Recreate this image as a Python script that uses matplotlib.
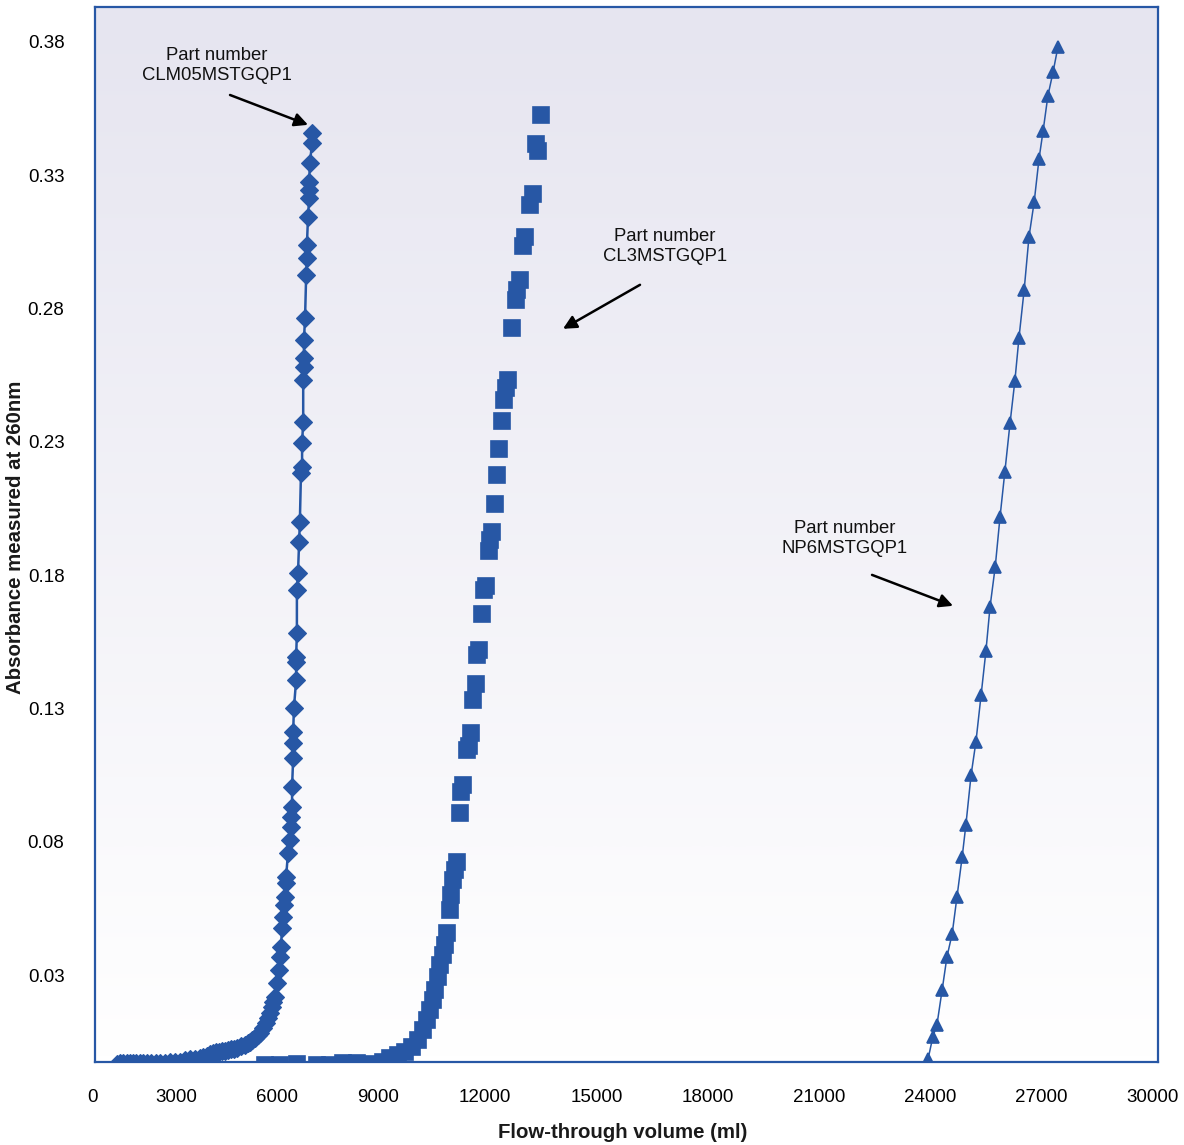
import numpy as np
import matplotlib
matplotlib.use("Agg")
import matplotlib.pyplot as plt
from matplotlib.colors import LinearSegmentedColormap
from matplotlib.transforms import blended_transform_factory

plt.rcParams['font.family'] = ['Liberation Sans', 'DejaVu Sans']

# ---------------- data ----------------
# Part number CLM05MSTGQP1 (diamonds)
clm05_x = [2080, 2170, 2250, 2340, 2430, 2520, 2600, 2690, 2780, 2890, 3000, 3120,
           3240, 3370, 3500, 3640, 3780, 3910, 4050, 4180, 4320, 4410, 4500, 4590,
           4670, 4750, 4830, 4910, 4990, 5070, 5150, 5240, 5320, 5420, 5530, 5600,
           5670, 5730, 5800, 5870, 5940, 6020, 6100, 6160, 6210, 6250, 6290,
           6340, 6390, 6450, 6470, 6500, 6530, 6560, 6580, 6610, 6640, 6640, 6690,
           6740, 6770, 6770, 6800, 6800, 6830, 6830, 6830, 6850, 6910, 6910, 6910,
           6930, 6930, 6960, 6990, 7010, 7040, 7070, 7070, 7100, 7100, 7120, 7120,
           7120, 7150, 7180, 7200, 7200, 7230, 7260, 7260, 7260, 7280, 7340, 7340]
clm05_y = [-0.0032, -0.0031, -0.0030, -0.0030, -0.0029, -0.0029, -0.0029, -0.0030,
           -0.0031, -0.0030, -0.0029, -0.0029, -0.0029, -0.0028, -0.0027, -0.0026,
           -0.0025, -0.0020, -0.0016, -0.0013, -0.0010, -0.0006, -0.0003, 0.0004,
           0.0009, 0.0011, 0.0012, 0.0014, 0.0016, 0.0019, 0.0022, 0.0024,
           0.0027, 0.0033, 0.0039, 0.0044, 0.0050, 0.0057, 0.0065, 0.0074,
           0.0084, 0.0102, 0.0121, 0.0140, 0.0159, 0.0180, 0.0200,
           0.0219, 0.0271, 0.0320, 0.0369, 0.0406, 0.0477, 0.0519, 0.0564, 0.0594,
           0.0646, 0.0669, 0.0759, 0.0807, 0.0856, 0.0894, 0.0931, 0.1006, 0.1115,
           0.1171, 0.1212, 0.1302, 0.1407, 0.1475, 0.1494, 0.1584, 0.1745, 0.1809,
           0.1925, 0.2000, 0.2184, 0.2206, 0.2296, 0.2375, 0.2532, 0.2581, 0.2615,
           0.2682, 0.2765, 0.2926, 0.2990, 0.3039, 0.3144, 0.3215, 0.3245, 0.3275,
           0.3346, 0.3421, 0.3459]

# Part number CL3MSTGQP1 (squares)
cl3_x = [6070, 6480, 6930, 7470, 7820, 8170, 8550, 8900, 9250, 9440, 9660, 9840,
         10030, 10190, 10330, 10440, 10520, 10600, 10650, 10730, 10790, 10870,
         10920, 10980, 11060, 11080, 11140, 11190, 11250, 11330, 11350, 11410,
         11520, 11570, 11620, 11680, 11760, 11780, 11840, 11920, 11970, 12030,
         12110, 12140, 12190, 12270, 12320, 12380, 12460, 12510, 12570, 12620,
         12730, 12840, 12860, 12940, 13020, 13080, 13210, 13290, 13430, 13370, 13510]
cl3_y = [-0.0036, -0.0036, -0.0032, -0.0036, -0.0036, -0.0029, -0.0029, -0.0032,
         -0.0025, -0.0010, 0.0001, 0.0012, 0.0031, 0.0057, 0.0095, 0.0132, 0.0170,
         0.0207, 0.0245, 0.0294, 0.0339, 0.0376, 0.0414, 0.0459, 0.0545, 0.0601,
         0.0657, 0.0695, 0.0725, 0.0909, 0.0987, 0.1014, 0.1145, 0.1160, 0.1209,
         0.1332, 0.1392, 0.1501, 0.1520, 0.1655, 0.1745, 0.1760, 0.1891, 0.1932,
         0.1962, 0.2067, 0.2176, 0.2274, 0.2379, 0.2457, 0.2502, 0.2532, 0.2727,
         0.2832, 0.2870, 0.2907, 0.3035, 0.3069, 0.3189, 0.3230, 0.3391, 0.3417,
         0.3526]

# Part number NP6MSTGQP1 (triangles)
np6_x = [23940, 24070, 24180, 24320, 24450, 24590, 24720, 24860, 24960, 25100,
         25230, 25370, 25500, 25610, 25750, 25880, 26010, 26150, 26280, 26390,
         26530, 26660, 26800, 26930, 27040, 27170, 27310, 27440]
np6_y = [-0.0015, 0.0069, 0.0114, 0.0245, 0.0369, 0.0455, 0.0594, 0.0744, 0.0864,
         0.1051, 0.1175, 0.1351, 0.1516, 0.1681, 0.1831, 0.2019, 0.2188, 0.2371,
         0.2529, 0.2690, 0.2870, 0.3069, 0.3200, 0.3361, 0.3466, 0.3598, 0.3688,
         0.3781]

x_tick_labels = ['0', '3000', '6000', '9000', '12000', '15000', '18000',
                 '21000', '24000', '27000', '30000']
y_ticks = [0.03, 0.08, 0.13, 0.18, 0.23, 0.28, 0.33, 0.38]
y_tick_labels = ['0.03', '0.08', '0.13', '0.18', '0.23', '0.28', '0.33', '0.38']

labels = ['Part number\nCLM05MSTGQP1', 'Part number\nCL3MSTGQP1', 'Part number\nNP6MSTGQP1']

# ---------------- layout / style ----------------
blue = '#2757A5'
fig = plt.figure(figsize=(11.84, 11.45), dpi=100)
fig.patch.set_facecolor('white')
ax = fig.add_axes([95/1184, 1 - 1062/1145, (1158-95)/1184, (1062-7)/1145])

xmin, xmax = 1489, 30137
ymin, ymax = -0.0026, 0.3931
ax.set_xlim(xmin, xmax)
ax.set_ylim(ymin, ymax)

# background gradient
cmap = LinearSegmentedColormap.from_list('bg', ['#FFFFFF', '#E6E5F0'])
grad = np.linspace(0, 1, 256).reshape(-1, 1)
ax.imshow(grad, aspect='auto', cmap=cmap, extent=[0, 1, 0, 1], origin='lower',
          transform=ax.transAxes, zorder=0, interpolation='bicubic')

for s in ax.spines.values():
    s.set_color(blue)
    s.set_linewidth(1.6)
    s.set_zorder(5)

ax.plot(clm05_x, clm05_y, color=blue, lw=1.8, marker='D', ms=9.2, mfc=blue,
        mec=blue, mew=0.8, zorder=3)
ax.plot(cl3_x, cl3_y, color=blue, lw=0, marker='s', ms=11.2, mfc=blue,
        mec=blue, mew=1.2, zorder=3)
ax.plot(np6_x, np6_y, color=blue, lw=1.1, marker='^', ms=8.8, mfc=blue,
        mec=blue, mew=1.2, zorder=3)

# axes ticks
ax.set_xticks([])
ax.set_yticks(y_ticks)
ax.set_yticklabels(y_tick_labels, fontsize=13.5)
ax.tick_params(axis='y', length=0, pad=22)

trans = blended_transform_factory(ax.transData, ax.transAxes)
xtick_label_pos = [1409, 3670, 6390, 9120, 12000, 15000, 18000, 21000, 24000, 27000, 30000]
for p, t in zip(xtick_label_pos, x_tick_labels):
    ax.text(p, -35/1055, t, transform=trans, ha='center', va='center',
            fontsize=13.5, clip_on=False)

fig.text(623/1184, 1 - 1132/1145, 'Flow-through volume (ml)', ha='center',
         va='center', fontsize=14.7, fontweight='bold', color='#1a1a1a')
fig.text(16/1184, 1 - 537/1145, 'Absorbance measured at 260nm', ha='center',
         va='center', rotation=90, fontsize=14.7, fontweight='bold', color='#1a1a1a')

# annotations
text_pos = [(4777, 0.3712), (16851, 0.3033), (21702, 0.1938)]
arrow_from = [(5128, 0.3601), (16177, 0.2889), (22430, 0.1801)]
arrow_to = [(7230, 0.3489), (14102, 0.2724), (24613, 0.1685)]
for lab, tp, a0, a1 in zip(labels, text_pos, arrow_from, arrow_to):
    ax.text(tp[0], tp[1], lab, ha='center', va='center', fontsize=13.3,
            linespacing=1.22, color='#111111', zorder=6)
    ax.annotate('', xy=a1, xytext=a0,
                arrowprops=dict(arrowstyle='-|>', lw=1.8, color='black',
                                mutation_scale=20, shrinkA=0, shrinkB=0),
                zorder=6)

fig.savefig('out.png', dpi=100, facecolor='white')
